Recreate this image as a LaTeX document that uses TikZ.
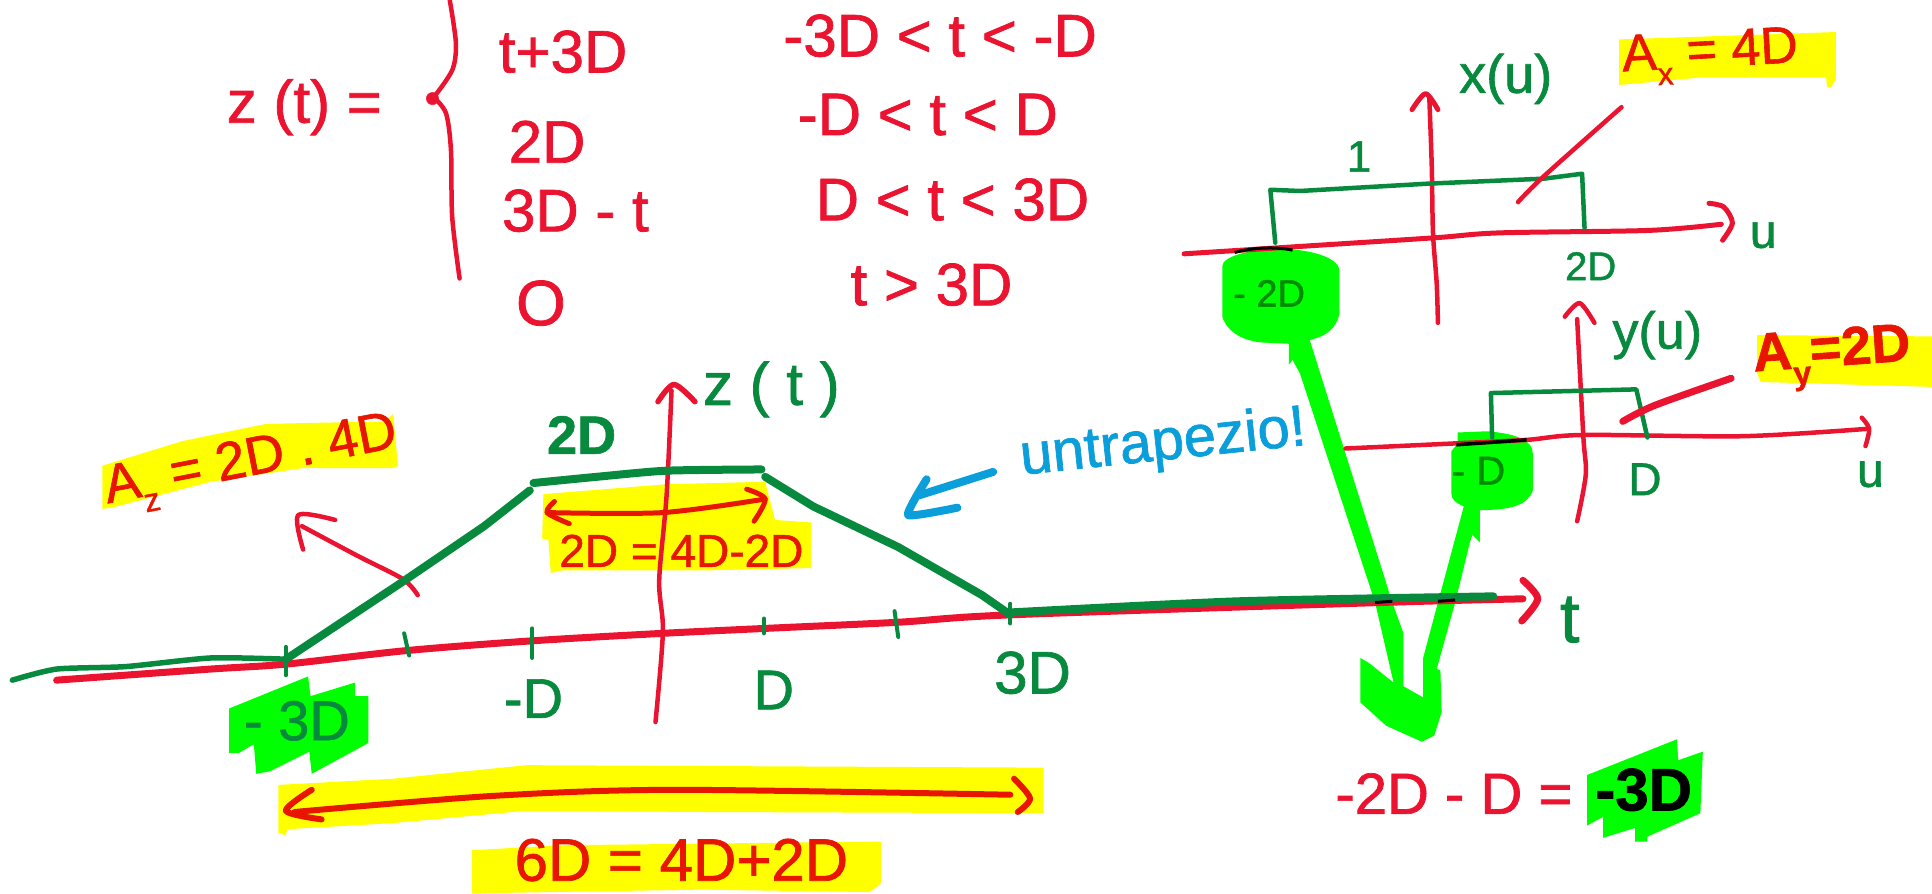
\documentclass[tikz,border=0pt]{standalone}
\usepackage{fontspec}
\setmainfont[FakeBold=1.2]{Liberation Sans}
\definecolor{penred}{HTML}{EA1430}
\definecolor{hired}{HTML}{E81600}
\definecolor{pengreen}{HTML}{078A3E}
\definecolor{hilime}{HTML}{00FF00}
\definecolor{hiyellow}{HTML}{FFFF00}
\definecolor{penblue}{HTML}{0A9FDB}
\newcommand{\lowidx}[1]{\raisebox{-.3em}{\scalebox{.6}{#1}}}
\tikzset{
	every node/.style={inner sep=0pt},
	redpen/.style={draw=penred,line width=4.5pt,line cap=round,line join=round},
	redfat/.style={redpen,line width=7pt},
	hipen/.style={redpen,draw=hired,line width=5pt},
	greenpen/.style={draw=pengreen,line width=4pt,line cap=round,line join=round},
	greenfat/.style={greenpen,line width=8pt},
	bluepen/.style={draw=penblue,line width=8pt,line cap=round,line join=round},
	redtext/.style={text=penred,font=\fontsize{60}{60}\selectfont},
	hitext/.style={text=hired,font=\fontsize{54}{54}\selectfont},
	greentext/.style={text=pengreen,font=\fontsize{56}{56}\selectfont}
}
\begin{document}
\begin{tikzpicture}[x=1.232pt,y=-1.232pt]
\useasboundingbox (0,0) rectangle (1568,725);
\fill[hiyellow] (1314,32) -- (1490,26) -- (1490,64) -- (1486,71) -- (1483,71) -- (1482,63) -- (1379,63) -- (1314,69) -- cycle;
\fill[hiyellow] (1426,272) -- (1568,273) -- (1568,314) -- (1429,310) -- (1426,303) -- cycle;
\fill[hiyellow] (83,378) -- (148,358) -- (216,344) -- (313,342) -- (319,336) -- (323,378) -- (319,380) -- (245,380) -- (171,391) -- (91,412) -- (83,413) -- cycle;
\fill[hiyellow] (441,401) -- (541,393) -- (621,391) -- (629,422) -- (658,424) -- (658,461) -- (569,463) -- (456,463) -- (447,465) -- (445,438) -- (440,437) -- cycle;
\fill[hiyellow] (226,637) -- (319,632) -- (427,621) -- (847,623) -- (847,660) -- (569,659) -- (427,658) -- (319,668) -- (233,673) -- (232,678) -- (226,676) -- cycle;
\fill[hiyellow] (383,690) -- (456,686) -- (715,683) -- (715,717) -- (706,724) -- (569,722) -- (387,725) -- (383,725) -- cycle;

\fill[hilime] (186,575) -- (250,549) -- (252,565) -- (288,554) -- (288,565) -- (299,565) -- (299,603) -- (253,628) -- (251,610) -- (219,626) -- (208,628) -- (206,604) -- (194,611) -- (186,611) -- cycle;
\fill[hilime] (1288,629) -- (1361,600) -- (1362,617) -- (1382,610) -- (1380,660) -- (1337,679) -- (1337,683) -- (1327,683) -- (1327,672) -- (1301,680) -- (1301,663) -- (1288,670) -- cycle;
\fill[hilime] (1039,202) .. controls (1060,202) and (1087,208) .. (1087,220) -- (1087,255) .. controls (1084,268) and (1075,273) .. (1063,276) -- (1130,489) -- (1139,514) -- (1139,557) -- (1155,566) -- (1155,534) -- (1167,489) -- (1188,411) .. controls (1181,408) and (1178,405) .. (1178,401) -- (1178,366) -- (1183,360) -- (1183,351) -- (1207,350) .. controls (1232,352) and (1244,358) .. (1244,368) -- (1244,398) .. controls (1240,410) and (1226,414) .. (1201,414) -- (1201,440) -- (1195,434) -- (1193,440) -- (1181,489) -- (1166,543) -- (1169,544) -- (1170,578) -- (1164,597) -- (1154,602) -- (1125,589) -- (1104,570) -- (1104,534) -- (1111,538) -- (1131,554) -- (1116,489) -- (1055,303) -- (1049,292) -- (1046,296) -- (1046,279) -- (1025,278) .. controls (1010,277) and (996,270) .. (992,257) -- (992,216) .. controls (992,208) and (1015,202) .. (1039,202) -- cycle;

\draw[redpen] plot[smooth] coordinates {(365,0) (370,35) (367,57) (352,79)};
\draw[redpen] plot[smooth] coordinates {(352,79) (362,92) (366,122) (367,176) (373,226)};
\filldraw[draw=penred,fill=penred] (351,80) circle (5);

\draw[redfat] plot[smooth] coordinates {(46,552) (171,543) (232,539) (330,528) (433,520) (538,514) (621,510) (729,505) (820,499) (1120,489) (1236,486)};
\draw[redfat] plot[smooth] coordinates {(1236,471) (1248,486) (1235,504)};
\draw[redpen] plot[smooth] coordinates {(532,586) (538,513) (535,471) (541,402) (545,317)};
\draw[redpen,line width=5.5pt] plot[smooth] coordinates {(534,326) (547,312) (564,326)};
\draw[redpen] plot[smooth] coordinates {(339,483) (327,470) (290,451) (245,427)};
\draw[redpen] plot[smooth] coordinates {(272,422) (242,418) (246,446)};

\draw[greenfat,line width=5.5pt] plot[smooth,tension=.4] coordinates {(10,552) (46,543) (102,541) (171,534) (232,535)};
\draw[greenfat] (232,535) -- (327,472) -- (393,427) -- (430,398);
\draw[greenfat] plot[smooth,tension=.4] coordinates {(433,392) (484,387) (541,382) (618,381)};
\draw[greenfat] (621,387) -- (660,411) -- (729,444) -- (797,483) -- (820,499);
\draw[greenfat] plot[smooth,tension=.4] coordinates {(821,497) (1005,488) (1212,484)};
\draw[draw=black,line width=3pt] (1116,489) -- (1130,488);
\draw[draw=black,line width=3pt] (1167,488) -- (1181,487);
\draw[greenpen] (232,525) -- (232,548);
\draw[greenpen] (328,514) -- (332,532);
\draw[greenpen] (432,510) -- (432,534);
\draw[greenpen] (620,502) -- (620,514);
\draw[greenpen] (726,496) -- (729,517);
\draw[greenpen] (820,490) -- (820,506);

\draw[hipen] plot[smooth] coordinates {(444,416) (538,416) (621,405)};
\draw[hipen] plot[smooth] coordinates {(450,407) (444,416) (462,425)};
\draw[hipen] plot[smooth] coordinates {(606,397) (621,405) (612,423)};
\draw[hipen,line width=6pt] plot[smooth] coordinates {(239,659) (399,646) (547,641) (820,645)};
\draw[hipen,line width=6pt] plot[smooth] coordinates {(253,641) (232,658) (261,665)};
\draw[hipen,line width=6pt] plot[smooth] coordinates {(823,632) (836,648) (826,659)};

\draw[bluepen] (806,383) -- (746,402);
\draw[bluepen] plot[smooth,tension=.3] coordinates {(752,389) (737,418) (777,412)};

\draw[redpen] plot[smooth] coordinates {(1167,262) (1166,230) (1163,189) (1162,135) (1160,79)};
\draw[redpen,line width=5pt] plot[smooth] coordinates {(1146,89) (1157,76) (1167,89)};
\draw[redpen,line width=5pt] plot[smooth] coordinates {(961,206) (1055,200) (1164,193) (1217,189) (1338,187) (1397,182)};
\draw[redpen,line width=5pt] plot[smooth] coordinates {(1387,165) (1399,168) (1406,181) (1398,195)};
\draw[greenpen,line width=4.5pt] (1035,197) -- (1031,154) -- (1055,155) -- (1160,149) -- (1253,145) -- (1284,141) -- (1286,185);
\draw[redpen] plot[smooth] coordinates {(1232,164) (1253,143) (1316,87)};
\draw[draw=black,line width=3pt] (1002,205) .. controls (1015,201) and (1035,200) .. (1049,203);

\draw[redpen] plot[smooth] coordinates {(1280,423) (1287,385) (1285,354) (1280,259)};
\draw[redpen] plot[smooth] coordinates {(1270,257) (1282,246) (1294,262)};
\draw[redpen,line width=4.5pt] plot[smooth] coordinates {(1092,364) (1178,360) (1239,357) (1285,353) (1415,354) (1516,348)};
\draw[redpen] plot[smooth] coordinates {(1511,339) (1517,348) (1514,362)};
\draw[greenpen,line width=4.5pt] (1211,355) -- (1210,319) -- (1328,316) -- (1337,355);
\draw[redfat] plot[smooth] coordinates {(1317,342) (1343,329) (1405,307)};
\draw[draw=black,line width=3.5pt] (1182,361) -- (1239,357);

\node[redtext] (ztdef) at (247,87) {z (t) =};
\node[redtext] (caseone) at (457,42) {t+3D};
\node[redtext] (casetwo) at (444,115) {2D};
\node[redtext] (casethree) at (467,171) {3D - t};
\node[redtext,font=\fontsize{64}{64}\selectfont] (casefour) at (439,246) {O};
\node[redtext] (condone) at (763,29) {-3D < t < -D};
\node[redtext] (condtwo) at (753,93) {-D < t < D};
\node[redtext] (condthree) at (773,162) {D < t < 3D};
\node[redtext] (condfour) at (756,231) {t > 3D};

\node[greentext,font=\fontsize{60}{60}\selectfont] (ztlabel) at (626,316) {z ( t )};
\node[greentext,font=\bfseries\fontsize{54}{54}\selectfont] (toplabel) at (472,353) {2D};
\node[hitext,rotate=11] (areaz) at (204,377) {A\lowidx{z} = 2D . 4D};
\node[hitext,font=\fontsize{46}{46}\selectfont] (widthtop) at (553,447) {2D = 4D-2D};
\node[hitext,font=\fontsize{60}{60}\selectfont] (widthall) at (553,698) {6D = 4D+2D};
\node[greentext] (tickmthree) at (241,585) {- 3D};
\node[greentext] (tickmone) at (433,567) {-D};
\node[greentext] (tickone) at (628,560) {D};
\node[greentext,font=\fontsize{60}{60}\selectfont] (tickthree) at (838,546) {3D};
\node[greentext,font=\fontsize{70}{70}\selectfont] (tlabel) at (1274,503) {t};

\node[text=penblue,rotate=6,font=\fontsize{58}{58}\selectfont] (note) at (944,361) {untrapezio!};

\node[greentext,font=\fontsize{54}{54}\selectfont] (xlabel) at (1222,64) {x(u)};
\node[greentext,font=\fontsize{44}{44}\selectfont] (xheight) at (1103,127) {1};
\node[greentext,font=\fontsize{40}{40}\selectfont] (xend) at (1291,216) {2D};
\node[greentext,font=\fontsize{48}{48}\selectfont] (xaxis) at (1431,191) {u};
\node[greentext,text=green!55!black,font=\fontsize{38}{38}\selectfont] (xstart) at (1030,238) {- 2D};
\node[hitext,rotate=3,font=\fontsize{52}{52}\selectfont] (areax) at (1388,46) {A\lowidx{x} = 4D};

\node[greentext,font=\fontsize{52}{52}\selectfont] (ylabel) at (1345,272) {y(u)};
\node[greentext,font=\fontsize{46}{46}\selectfont] (yend) at (1335,389) {D};
\node[greentext,font=\fontsize{48}{48}\selectfont] (yaxis) at (1518,385) {u};
\node[greentext,text=green!55!black,font=\fontsize{40}{40}\selectfont] (ystart) at (1200,382) {- D};
\node[hitext,rotate=4,font=\bfseries\fontsize{54}{54}\selectfont] (areay) at (1487,291) {A\lowidx{y}=2D};

\node[redtext,font=\fontsize{58}{58}\selectfont] (sumleft) at (1180,644) {-2D - D =};
\node[text=black,font=\bfseries\fontsize{60}{60}\selectfont] (sumright) at (1334,641) {-3D};
\end{tikzpicture}
\end{document}
